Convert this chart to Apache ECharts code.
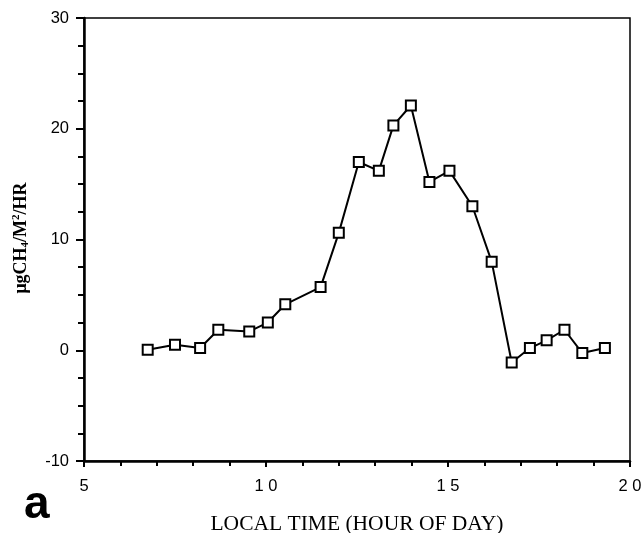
<!DOCTYPE html>
<html>
<head>
<meta charset="utf-8">
<script src="https://cdn.jsdelivr.net/npm/echarts@6/dist/echarts.min.js"></script>
<style>
html,body{margin:0;padding:0;background:#fff;}
#main{width:644px;height:533px;}
</style>
</head>
<body>
<div id="main"></div>
<script>
// local time (hour of day) and methane flux
var hours = [6.75, 7.5, 8.19, 8.69, 9.54, 10.05, 10.53, 11.5, 12.0, 12.55, 13.1, 13.5, 13.98,
             14.49, 15.04, 15.67, 16.2, 16.75, 17.25, 17.71, 18.2, 18.69, 19.31];
var flux = [0.05, 0.5, 0.2, 1.85, 1.7, 2.5, 4.15, 5.7, 10.6, 17.0, 16.2, 20.3, 22.1,
            15.2, 16.2, 13.0, 8.0, -1.1, 0.2, 0.9, 1.85, -0.25, 0.2];

var chartDom = document.getElementById('main');
var myChart = echarts.init(chartDom);
var option;

var pts = hours.map(function (h, i) { return [h, flux[i]]; });

option = {
  backgroundColor: '#fff',
  animation: false,
  grid: {
    left: 84, right: 14, top: 18, bottom: 72,
    outerBoundsMode: 'none',
    containLabel: false,
    show: true, borderColor: '#000', borderWidth: 1.5
  },
  xAxis: {
    type: 'value',
    min: 5, max: 20, interval: 5,
    name: 'LOCAL TIME (HOUR OF DAY)',
    nameLocation: 'middle',
    nameGap: 52,
    nameTextStyle: { fontFamily: 'Liberation Serif', fontSize: 21.5, color: '#000' },
    axisLine: { onZero: false, lineStyle: { color: '#000', width: 2.5 } },
    axisTick: { show: true, inside: false, length: 6, lineStyle: { color: '#000', width: 2 } },
    minorTick: { show: true, splitNumber: 5, length: 5, lineStyle: { color: '#000', width: 2 } },
    axisLabel: {
      color: '#000', fontFamily: 'Liberation Sans', fontSize: 16.5, margin: 17,
      formatter: function (v) { return String(v).split('').join(' '); }
    },
    splitLine: { show: false }
  },
  yAxis: {
    type: 'value',
    min: -10, max: 30, interval: 10,
    axisLine: { onZero: false, lineStyle: { color: '#000', width: 2.5 } },
    axisTick: { show: true, inside: false, length: 8, lineStyle: { color: '#000', width: 2 } },
    minorTick: { show: true, splitNumber: 4, length: 6, lineStyle: { color: '#000', width: 2 } },
    axisLabel: { color: '#000', fontFamily: 'Liberation Sans', fontSize: 16.5, margin: 15 },
    splitLine: { show: false }
  },
  graphic: [
    {
      type: 'text',
      x: 21, y: 238,
      rotation: Math.PI / 2,
      style: {
        text: '{m|μgCH}{s|4}{m|/M}{p|2}{m|/HR}',
        align: 'center', verticalAlign: 'middle',
        fill: '#000',
        rich: {
          m: { fontFamily: 'Liberation Serif', fontSize: 18, fontWeight: 'bold', fill: '#000', lineHeight: 20, verticalAlign: 'middle' },
          s: { fontFamily: 'Liberation Serif', fontSize: 11, fontWeight: 'bold', fill: '#000', lineHeight: 20, verticalAlign: 'bottom' },
          p: { fontFamily: 'Liberation Serif', fontSize: 11, fontWeight: 'bold', fill: '#000', lineHeight: 20, verticalAlign: 'top' }
        }
      }
    },
    {
      type: 'text',
      left: 24, top: 482,
      style: { text: 'a', fontFamily: 'Liberation Sans', fontWeight: 'bold', fontSize: 46, fill: '#000' }
    }
  ],
  series: [{
    type: 'line',
    data: pts,
    symbol: 'rect',
    symbolSize: 10,
    lineStyle: { color: '#000', width: 2 },
    itemStyle: { color: '#fff', borderColor: '#000', borderWidth: 2 }
  }]
};

option && myChart.setOption(option);
</script>
</body>
</html>
